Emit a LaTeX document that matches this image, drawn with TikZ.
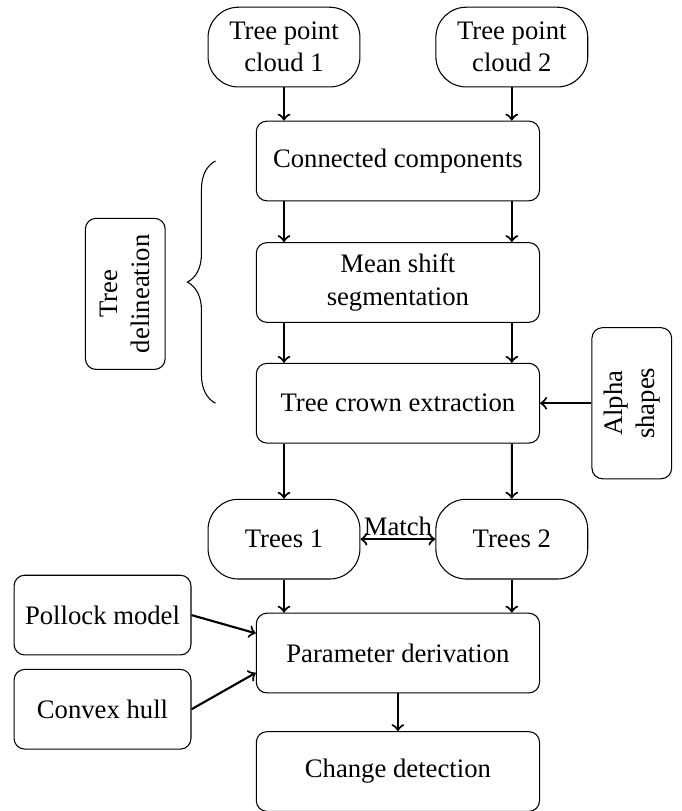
\documentclass[tikz,border=0pt]{standalone}
\usepackage{fontspec}
\setmainfont{Liberation Serif}
\usetikzlibrary{arrows, positioning, calc, decorations.pathreplacing}

\tikzset{
    process/.style={rectangle, rounded corners, draw, minimum width=3.73cm, minimum height=1.05cm, align=center},
    dataset/.style={rectangle, rounded corners=0.4cm, draw, minimum width=2cm, minimum height=1.05cm, align=center},
    helper/.style={rectangle, rounded corners, draw, minimum width=2.33cm, minimum height=1.05cm, align=center},
    upright/.style={rectangle, rounded corners, draw, rotate=90, minimum width=1.99cm, minimum height=1.05cm, align=center},
    flow/.style={->, thick},
}

\begin{document}
\begin{tikzpicture}
    \useasboundingbox (0,0) rectangle (8.97,-10.68);
    % inputs
    \node[dataset] (cloud1) at (3.74,-0.62) {Tree point\\cloud 1};
    \node[dataset] (cloud2) at (6.74,-0.62) {Tree point\\cloud 2};
    % delineation steps
    \node[process] (conn) at (5.24,-2.12) {Connected components};
    \node[process] (shift) at (5.24,-3.72) {Mean shift\\segmentation};
    \node[process] (crown) at (5.24,-5.31) {Tree crown extraction};
    \node[upright] (alpha) at (8.32,-5.31) {Alpha\\shapes};
    \node[upright] (delin) at (1.65,-3.87) {Tree\\delineation};
    \draw[decorate, decoration={brace, amplitude=0.37cm}] ([xshift=-0.53cm]crown.west) -- ([xshift=-0.53cm]conn.west);
    % trees
    \node[dataset] (trees1) at (3.74,-7.10) {Trees 1};
    \node[dataset] (trees2) at (6.74,-7.10) {Trees 2};
    % parameters
    \node[process] (param) at (5.24,-8.60) {Parameter derivation};
    \node[helper] (pollock) at (1.35,-8.10) {Pollock model};
    \node[helper] (hull) at (1.35,-9.34) {Convex hull};
    \node[process] (change) at (5.24,-10.16) {Change detection};

    \draw[flow] (cloud1) -- (cloud1 |- conn.north);
    \draw[flow] (cloud2) -- (cloud2 |- conn.north);
    \draw[flow] ([xshift=-1.5cm]conn.south) -- ([xshift=-1.5cm]shift.north);
    \draw[flow] ([xshift=1.5cm]conn.south) -- ([xshift=1.5cm]shift.north);
    \draw[flow] ([xshift=-1.5cm]shift.south) -- ([xshift=-1.5cm]crown.north);
    \draw[flow] ([xshift=1.5cm]shift.south) -- ([xshift=1.5cm]crown.north);
    \draw[flow] (alpha) -- (crown);
    \draw[flow] ([xshift=-1.5cm]crown.south) -- (trees1);
    \draw[flow] ([xshift=1.5cm]crown.south) -- (trees2);
    \draw[<->, thick] (trees1) -- node[above, inner sep=1pt] {Match} (trees2);
    \draw[flow] (trees1) -- (trees1 |- param.north);
    \draw[flow] (trees2) -- (trees2 |- param.north);
    \draw[flow] (pollock.east) -- ([yshift=0.26cm]param.west);
    \draw[flow] (hull.east) -- ([yshift=-0.26cm]param.west);
    \draw[flow] (param) -- (change);
\end{tikzpicture}
\end{document}
